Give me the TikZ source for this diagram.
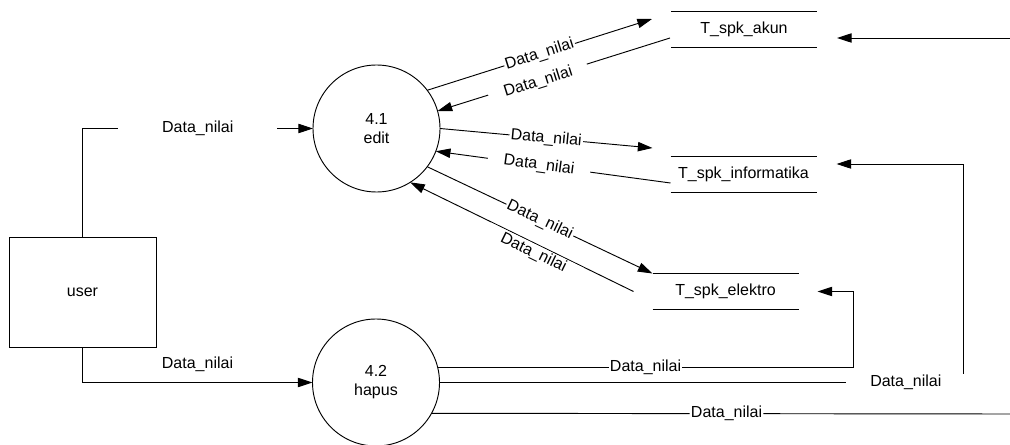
\documentclass[tikz,border=0pt]{standalone}
\usepackage{fontspec}
\setmainfont{Liberation Sans}
\usetikzlibrary{arrows.meta, calc}
\tikzstyle{procbox} = [circle, draw=black, minimum size=95.25pt, inner sep=0pt, align=center]
\tikzstyle{userbox} = [rectangle, draw=black, minimum width=110.25pt, minimum height=82.5pt]
\tikzstyle{storebox} = [rectangle, minimum width=109.5pt, minimum height=27pt, inner sep=0pt]
\tikzstyle{arrow} = [-{Triangle[length=11pt,width=7pt]}]
\tikzstyle{flowlabel} = [sloped, fill=white, inner sep=1pt]
\tikzstyle{backlabel} = [sloped, fill=white, inner xsep=12pt, inner ysep=1pt]

\begin{document}
\begin{tikzpicture}[x=0.75pt, y=-0.75pt, line width=0.7pt, outer sep=0pt, font=\fontsize{12}{14.25}\selectfont]
  \useasboundingbox (0,0) rectangle (1010,445);

  \node (user) [userbox] at (82.5,292) {user};
  \node (edit) [procbox] at (376.5,128.5) {4.1\\edit};
  \node (hapus) [procbox] at (376,382.5) {4.2\\hapus};
  \node (akun) [storebox] at (744,29) {T\_spk\_akun};
  \node (informatika) [storebox] at (743.5,174) {T\_spk\_informatika};
  \node (elektro) [storebox] at (725.5,291.5) {T\_spk\_elektro};
  \coordinate (offhapus) at (1010,414);
  \coordinate (offakun) at (1010,38);

  \foreach \s in {akun, informatika, elektro}
    \draw (\s.north west) -- (\s.north east) (\s.south west) -- (\s.south east);

  \draw [arrow] (user.north) |- node[pos=.75, fill=white, inner xsep=33pt] {Data\_nilai} (edit.west);
  \draw [arrow] (user.south) |- node[pos=.75, above=7pt, inner sep=1pt] {Data\_nilai} (hapus.west);

  \draw [arrow] (edit.37.5) -- node[flowlabel] {Data\_nilai} ($(akun.west)+(-19,-10)$);
  \draw [arrow] ($(akun.west)+(-1,9)$) -- node[backlabel, pos=.57, yshift=-2pt] {Data\_nilai} (edit.16);
  \draw [arrow] (edit.east) -- node[flowlabel] {Data\_nilai} ($(informatika.west)+(-18,-26)$);
  \draw [arrow] ($(informatika.west)+(0,9)$) -- node[backlabel, pos=.56] {Data\_nilai} (edit.-21);
  \draw [arrow] (edit.-37.5) -- node[flowlabel] {Data\_nilai} (elektro.north west);
  \draw [arrow] ($(elektro.west)+(-19,0)$) -- node[backlabel, pos=.43, yshift=-7pt] {Data\_nilai} (edit.-58);

  \draw [arrow] (hapus.14) -| node[pos=.25, flowlabel] {Data\_nilai} ($(elektro.east)+(55,0)$) -- ($(elektro.east)+(19,0)$);
  \draw [arrow] (hapus.east) -| node[pos=.445, flowlabel, inner xsep=18pt] {Data\_nilai} ($(informatika.east)+(147,-10)$) -- ($(informatika.east)+(20,-10)$);
  \draw (hapus.-29.7) -- node[pos=.51, flowlabel] {Data\_nilai} (offhapus);
  \draw [arrow] (offakun) -- ($(akun.east)+(20,9)$);
\end{tikzpicture}
\end{document}
